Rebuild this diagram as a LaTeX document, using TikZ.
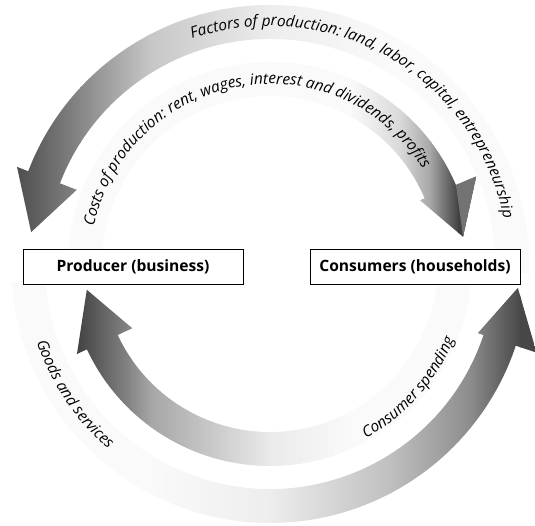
\documentclass[tikz,border=0pt]{standalone}
\usepackage{fontspec}
\setmainfont{Open Sans}
\usetikzlibrary{decorations.text}
\newcommand{\flowfont}{\itshape\fontsize{15.4}{18}\selectfont}
\newcommand{\sectorfont}{\bfseries\fontsize{15.6}{18}\selectfont}
\tikzset{
	sector/.style={draw=black, line width=0.8pt, fill=white, minimum height=35.5pt, inner sep=0pt, font=\sectorfont},
	flowtext/.style={decorate, decoration={text along path, text align=center, text={|\flowfont|#1}}}
}

\begin{document}
\begin{tikzpicture}[x=1pt, y=1pt]
	\useasboundingbox (0,0) rectangle (535,525);
	\begin{scope}[shift={(270,261)}]
		% factors of production (outer top band)
		\begin{scope}
			\clip (-2:259) arc[start angle=-2, end angle=159, radius=259] -- (159:271) -- (172.4:241) -- (159:207) -- (159:225) arc[start angle=159, end angle=-2, radius=225] -- cycle;
			\foreach \xa/\xb/\ca/\cb in {-290/-255/70/70, -255/-190/70/47, -190/-120/47/22, -120/0/22/7, 0/120/7/2, 120/290/2/2}
				\shade[left color=black!\ca, right color=black!\cb] (\xa,-300) rectangle (\xb+1,300);
		\end{scope}
		% costs of production (inner top band)
		\begin{scope}
			\clip (176:202) arc[start angle=176, end angle=23, radius=202] -- (23:224) -- (8:195) -- (23:163) -- (23:168) arc[start angle=23, end angle=176, radius=168] -- cycle;
			\foreach \xa/\xb/\ca/\cb in {-290/80/2/2, 80/130/2/15, 130/160/15/35, 160/188/35/75, 188/290/75/75}
				\shade[left color=black!\ca, right color=black!\cb] (\xa,-300) rectangle (\xb+1,300);
			\fill[black!55] (8:195) -- (23:202) -- (23:224) -- cycle;
		\end{scope}
		% goods and services (inner bottom band)
		\begin{scope}
			\clip (-5:202) arc[start angle=-5, end angle=-155, radius=202] -- (-155:213) -- (-172:185) -- (-155:152) -- (-155:168) arc[start angle=-155, end angle=-5, radius=168] -- cycle;
			\foreach \xa/\xb/\ca/\cb in {-290/-195/75/75, -195/-140/75/47, -140/-120/47/35, -120/0/35/8, 0/80/8/2, 80/290/2/2}
				\shade[left color=black!\ca, right color=black!\cb] (\xa,-300) rectangle (\xb+1,300);
		\end{scope}
		% consumer spending (outer bottom band)
		\begin{scope}
			\clip (-176:259) arc[start angle=-176, end angle=-18.4, radius=259] -- (-18.4:281) -- (-5.5:249) -- (-18.4:219) -- (-18.4:225) arc[start angle=-18.4, end angle=-176, radius=225] -- cycle;
			\foreach \xa/\xb/\ca/\cb in {-290/-120/2/2, -120/0/2/7, 0/120/7/25, 120/200/25/45, 200/250/45/72, 250/290/72/72}
				\shade[left color=black!\ca, right color=black!\cb] (\xa,-300) rectangle (\xb+1,300);
		\end{scope}
	\end{scope}
	\node[sector, minimum width=220pt] (producer) at (133,258.25) {Producer (business)};
	\node[sector, minimum width=210pt] (consumers) at (415,258.25) {Consumers (households)};
	\begin{scope}[shift={(270,261)}]
		\path[flowtext={Factors of production: land, labor, capital, entrepreneurship}] (125:238) arc[start angle=125, end angle=-5, radius=238];
		\path[flowtext={Costs of production: rent, wages, interest and dividends, profits}] (190:180) arc[start angle=190, end angle=10, radius=180];
		\path[flowtext={Goods and services}] (190:246) arc[start angle=190, end angle=237.4, radius=246];
		\path[flowtext={Consumer spending}] (-85:199) arc[start angle=-85, end angle=1.4, radius=199];
	\end{scope}
\end{tikzpicture}
\end{document}
